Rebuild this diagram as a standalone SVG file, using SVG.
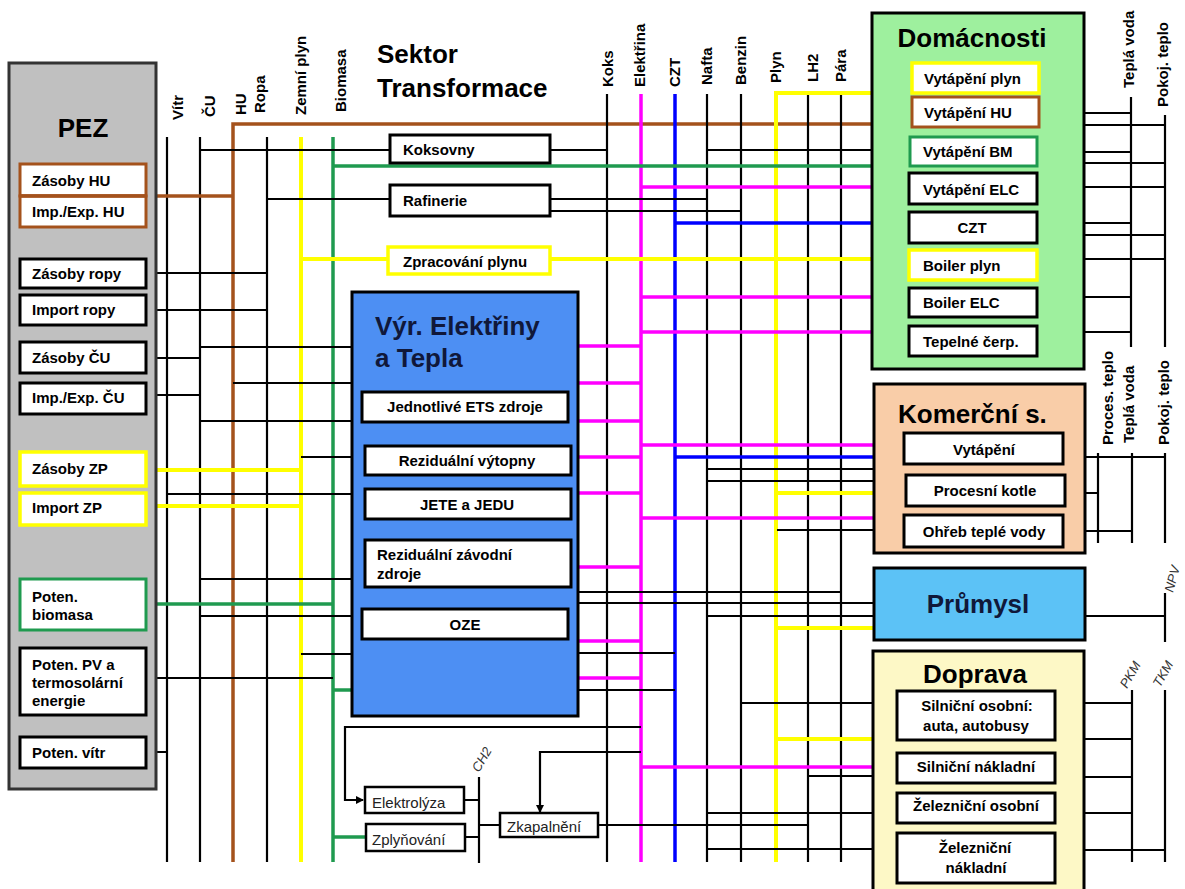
<svg xmlns="http://www.w3.org/2000/svg" width="1185" height="889" viewBox="0 0 1185 889">
<style>
.k{stroke:#000;stroke-width:2.2;fill:none}
.br{stroke:#a4521c;stroke-width:3.5;fill:none}
.y{stroke:#ffff00;stroke-width:4;fill:none}
.g{stroke:#1f9a4f;stroke-width:3.5;fill:none}
.m{stroke:#ff00ff;stroke-width:3.5;fill:none}
.b{stroke:#0000ff;stroke-width:3.5;fill:none}
.bx{fill:#fff;stroke:#000;stroke-width:3}
.bxy{fill:#fff;stroke:#ffff00;stroke-width:3.5}
.bxb{fill:#fff;stroke:#a4521c;stroke-width:3}
.bxg{fill:#fff;stroke:#1f9a4f;stroke-width:3}
.bxt{fill:#fff;stroke:#000;stroke-width:2.5}
.t{font-family:"Liberation Sans",Arial,sans-serif;font-weight:bold;font-size:15px;fill:#000}
.c{text-anchor:middle}
.h{font-size:26px}
.n{fill:#10183a}
.r{font-family:"Liberation Sans",Arial,sans-serif;font-size:15px;fill:#222}
.i{font-family:"Liberation Sans",Arial,sans-serif;font-size:13px;font-style:italic;fill:#333}
</style>
<defs>
<marker id="ar" markerWidth="8" markerHeight="8" refX="7" refY="4" orient="auto" markerUnits="userSpaceOnUse">
<path d="M0,0 L8,4 L0,8 z" fill="#000"/>
</marker>
</defs>
<rect width="1185" height="889" fill="#fff"/>

<g id="connectors">
<path class="k" d="M167 137V862M200 137V862M267 137V862"/>
<path class="br" d="M912 124H233V862"/>
<path class="y" d="M301 137V862"/>
<path class="g" d="M333 137V862"/>
<path class="k" d="M607 94V862M707 94V862M741 94V862M808 95V862M841 95V862M479 777V863"/>
<path class="m" d="M641 94V862"/>
<path class="b" d="M675 94V862"/>
<path class="y" d="M912 93H776V862"/>
<path class="k" d="M146 273H267M146 310H267M146 358H200M146 395H200M146 752H167M146 678H333"/>
<path class="br" d="M146 196H233"/>
<path class="y" d="M146 470H301M146 506H301"/>
<path class="g" d="M146 604H333"/>
<path class="k" d="M200 347H352M233 383H352M200 421H352M301 457H352M167 494H352M200 579H352M200 616H352M301 654H352"/>
<path class="g" d="M333 690H352"/>
<path class="k" d="M200 150H390M550 150H607M707 150H873M267 199H390M550 199H707M550 211H741"/>
<path class="g" d="M333 166H910"/>
<path class="y" d="M301 259H388M550 259H909"/>
<path class="m" d="M641 187H909M641 297H909M641 332H909"/>
<path class="b" d="M675 223H909"/>
<path class="m" d="M578 346H641M578 383H641M578 421H641M578 457H641M578 493H641M578 567H641M578 641H641M578 678H641"/>
<path class="m" d="M641 445H874M641 518H874"/>
<path class="b" d="M675 457H874"/>
<path class="k" d="M707 469H874M707 481H874M777 530H874"/>
<path class="y" d="M778 493H874"/>
<path class="k" d="M578 592H841M578 603H874M707 616H874M578 653H675M578 690H675"/>
<path class="y" d="M778 628H874"/>
<path class="k" d="M741 703H873M808 776H873M707 813H873M707 849H873M598 825H808"/>
<path class="y" d="M778 739H873"/>
<path class="m" d="M641 767H873"/>
<path class="k" d="M641 727H345V800H363" marker-end="url(#ar)"/>
<path class="k" d="M641 752H540V812" marker-end="url(#ar)"/>
<path class="k" d="M464 800H479M465 837H479M479 825H500"/>
<path class="g" d="M333 837H366"/>
<path class="k" d="M1131 97V347M1165 115V347M1085 113H1131M1085 125H1165M1085 152H1131M1085 163H1165M1085 187H1165M1085 223H1131M1085 235H1165M1085 259H1165M1085 297H1131M1085 332H1131"/>
<path class="k" d="M1098 453V543M1132 453V543M1165 453V543M1085 457H1165M1085 493H1098M1085 531H1132"/>
<path class="k" d="M1165 593V642M1085 616H1165"/>
<path class="k" d="M1132 690V862M1165 690V862M1084 703H1132M1084 739H1132M1084 777H1132M1084 813H1132M1084 850H1165"/>
</g>

<g id="labels-carriers">
<text class="t" transform="translate(183,120) rotate(-90)">Vítr</text>
<text class="t" transform="translate(215,117) rotate(-90)">ČU</text>
<text class="t" transform="translate(246,115) rotate(-90)">HU</text>
<text class="t" transform="translate(265,113) rotate(-90)">Ropa</text>
<text class="t" transform="translate(306,115) rotate(-90)">Zemní plyn</text>
<text class="t" transform="translate(346,112) rotate(-90)">Biomasa</text>
<text class="t" transform="translate(613,87) rotate(-90)">Koks</text>
<text class="t" transform="translate(645,87) rotate(-90)">Elektřina</text>
<text class="t" transform="translate(680,87) rotate(-90)">CZT</text>
<text class="t" transform="translate(712,85) rotate(-90)">Nafta</text>
<text class="t" transform="translate(746,85) rotate(-90)">Benzin</text>
<text class="t" transform="translate(781,83) rotate(-90)">Plyn</text>
<text class="t" transform="translate(818,82) rotate(-90)">LH2</text>
<text class="t" transform="translate(846,82) rotate(-90)">Pára</text>
<text class="t" transform="translate(1134,88) rotate(-90)">Teplá voda</text>
<text class="t" transform="translate(1168,107) rotate(-90)">Pokoj. teplo</text>
<text class="t" transform="translate(1113,445) rotate(-90)">Proces. teplo</text>
<text class="t" transform="translate(1134,443) rotate(-90)">Teplá voda</text>
<text class="t" transform="translate(1169,445) rotate(-90)">Pokoj. teplo</text>
<text class="i" transform="translate(1173,593) rotate(-75)">NPV</text>
<text class="i" transform="translate(1127,689) rotate(-60)">PKM</text>
<text class="i" transform="translate(1160,688) rotate(-60)">TKM</text>
<text class="i" transform="translate(479,773) rotate(-60)">CH2</text>
<text class="t h" x="377" y="63">Sektor</text>
<text class="t h" x="377" y="97">Transformace</text>
</g>

<g id="PEZ">
<rect x="9" y="63" width="147" height="726" fill="#c0c0c0" stroke="#333" stroke-width="3"/>
<text class="t h c" x="83" y="137">PEZ</text>
</g>
<g id="zasoby-hu"><rect class="bxb" x="20" y="164" width="126" height="32"/><text class="t" x="32" y="186">Zásoby HU</text></g>
<g id="imp-exp-hu"><rect class="bxb" x="20" y="196" width="126" height="31"/><text class="t" x="32" y="217">Imp./Exp. HU</text></g>
<path class="br" d="M20 196H146"/>
<g id="zasoby-ropy"><rect class="bx" x="20" y="259" width="126" height="29"/><text class="t" x="32" y="279">Zásoby ropy</text></g>
<g id="import-ropy"><rect class="bx" x="20" y="295" width="126" height="30"/><text class="t" x="32" y="315">Import ropy</text></g>
<g id="zasoby-cu"><rect class="bx" x="20" y="342" width="126" height="31"/><text class="t" x="32" y="363">Zásoby ČU</text></g>
<g id="imp-exp-cu"><rect class="bx" x="20" y="383" width="126" height="31"/><text class="t" x="32" y="403">Imp./Exp. ČU</text></g>
<g id="zasoby-zp"><rect class="bxy" x="20" y="452" width="126" height="34"/><text class="t" x="32" y="474">Zásoby ZP</text></g>
<g id="import-zp"><rect class="bxy" x="20" y="493" width="126" height="32"/><text class="t" x="32" y="513">Import ZP</text></g>
<g id="poten-biomasa"><rect class="bxg" x="20" y="579" width="126" height="51"/><text class="t" x="32" y="602">Poten.</text><text class="t" x="32" y="620">biomasa</text></g>
<g id="poten-pv"><rect class="bx" x="20" y="648" width="126" height="67"/><text class="t" x="32" y="670">Poten. PV a</text><text class="t" x="32" y="688">termosolární</text><text class="t" x="32" y="706">energie</text></g>
<g id="poten-vitr"><rect class="bx" x="20" y="737" width="126" height="31"/><text class="t" x="32" y="758">Poten. vítr</text></g>

<g id="koksovny"><rect class="bx" x="390" y="135" width="160" height="28"/><text class="t" x="403" y="155">Koksovny</text></g>
<g id="rafinerie"><rect class="bx" x="390" y="185" width="160" height="31"/><text class="t" x="403" y="206">Rafinerie</text></g>
<g id="zpracovani-plynu"><rect class="bxy" x="388" y="247" width="162" height="27"/><text class="t" x="403" y="267">Zpracování plynu</text></g>

<g id="vyr-elektriny">
<rect x="352" y="292" width="226" height="424" fill="#4d8ff3" stroke="#000" stroke-width="3"/>
<text class="t h n" x="375" y="335">Výr. Elektřiny</text>
<text class="t h n" x="375" y="367">a Tepla</text>
</g>
<g id="ets"><rect class="bx" x="362" y="392" width="206" height="30"/><text class="t c" x="465" y="412">Jednotlivé ETS zdroje</text></g>
<g id="vytopny"><rect class="bx" x="365" y="446" width="206" height="29"/><text class="t c" x="467" y="466">Reziduální výtopny</text></g>
<g id="jete"><rect class="bx" x="365" y="489" width="206" height="30"/><text class="t c" x="467" y="510">JETE a JEDU</text></g>
<g id="zavodni"><rect class="bx" x="365" y="540" width="206" height="47"/><text class="t" x="377" y="560">Reziduální závodní</text><text class="t" x="377" y="579">zdroje</text></g>
<g id="oze"><rect class="bx" x="362" y="609" width="206" height="30"/><text class="t c" x="465" y="630">OZE</text></g>

<g id="elektrolyza"><rect class="bxt" x="365" y="787" width="99" height="26"/><text class="r" x="372" y="808">Elektrolýza</text></g>
<g id="zplynovani"><rect class="bxt" x="366" y="824" width="99" height="27"/><text class="r" x="372" y="845">Zplyňování</text></g>
<g id="zkapalneni"><rect class="bxt" x="500" y="813" width="98" height="24"/><text class="r" x="507" y="832">Zkapalnění</text></g>

<g id="domacnosti">
<rect x="872" y="13" width="212" height="356" fill="#9ef09e" stroke="#000" stroke-width="3"/>
<text class="t h c" x="972" y="47">Domácnosti</text>
</g>
<g id="vyt-plyn"><rect class="bxy" x="912" y="63" width="127" height="30"/><text class="t" x="924" y="84">Vytápění plyn</text></g>
<g id="vyt-hu"><rect class="bxb" x="912" y="97" width="127" height="30"/><text class="t" x="924" y="118">Vytápění HU</text></g>
<g id="vyt-bm"><rect class="bxg" x="910" y="137" width="127" height="29"/><text class="t" x="923" y="157">Vytápění BM</text></g>
<g id="vyt-elc"><rect class="bx" x="909" y="173" width="128" height="31"/><text class="t" x="923" y="195">Vytápění ELC</text></g>
<g id="czt"><rect class="bx" x="909" y="212" width="128" height="31"/><text class="t c" x="972" y="233">CZT</text></g>
<g id="boiler-plyn"><rect class="bxy" x="909" y="250" width="128" height="30"/><text class="t" x="923" y="271">Boiler plyn</text></g>
<g id="boiler-elc"><rect class="bx" x="909" y="288" width="128" height="29"/><text class="t" x="923" y="308">Boiler ELC</text></g>
<g id="tepelne-cerp"><rect class="bx" x="909" y="326" width="128" height="30"/><text class="t" x="923" y="347">Tepelné čerp.</text></g>

<g id="komercni">
<rect x="874" y="384" width="211" height="169" fill="#f9cda8" stroke="#000" stroke-width="3"/>
<text class="t h" x="898" y="423">Komerční  s.</text>
</g>
<g id="k-vytapeni"><rect class="bx" x="904" y="433" width="159" height="31"/><text class="t c" x="984" y="455">Vytápění</text></g>
<g id="k-procesni"><rect class="bx" x="906" y="475" width="159" height="31"/><text class="t c" x="985" y="496">Procesní kotle</text></g>
<g id="k-ohreb"><rect class="bx" x="904" y="515" width="159" height="32"/><text class="t c" x="984" y="537">Ohřeb teplé vody</text></g>

<g id="prumysl">
<rect x="874" y="568" width="211" height="72" fill="#5cc2f6" stroke="#000" stroke-width="3"/>
<text class="t h c n" x="978" y="613">Průmysl</text>
</g>

<g id="doprava">
<rect x="873" y="651" width="211" height="250" fill="#fdf8c6" stroke="#000" stroke-width="3"/>
<text class="t h c" x="975" y="683">Doprava</text>
</g>
<g id="silnicni-osobni"><rect class="bx" x="897" y="691" width="158" height="49"/><text class="t c" x="977" y="711">Silniční osobní:</text><text class="t c" x="976" y="731">auta, autobusy</text></g>
<g id="silnicni-nakladni"><rect class="bx" x="897" y="753" width="158" height="30"/><text class="t c" x="976" y="772">Silniční nákladní</text></g>
<g id="zeleznicni-osobni"><rect class="bx" x="897" y="793" width="158" height="30"/><text class="t c" x="976" y="811">Železniční osobní</text></g>
<g id="zeleznicni-nakladni"><rect class="bx" x="897" y="833" width="158" height="50"/><text class="t c" x="975" y="853">Železniční</text><text class="t c" x="976" y="873">nákladní</text></g>
</svg>
